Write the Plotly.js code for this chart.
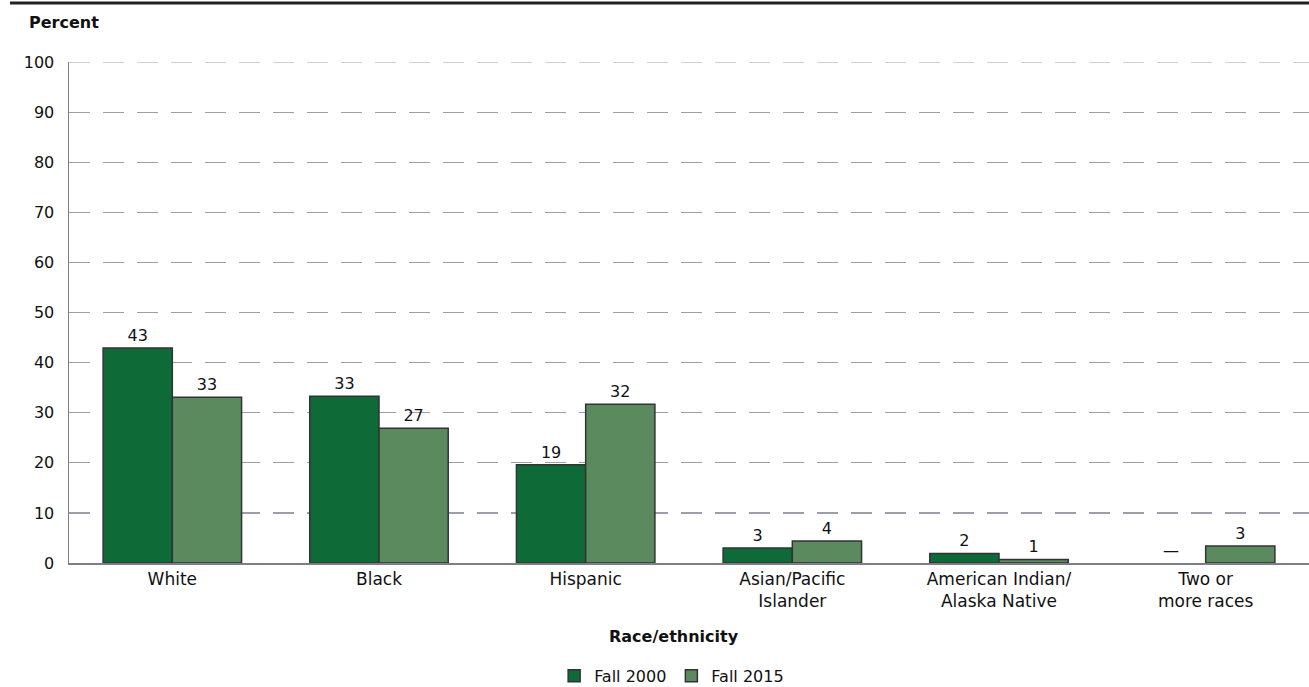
<!DOCTYPE html>
<html>
<head>
<meta charset="utf-8">
<script src="https://cdn.plot.ly/plotly-3.0.1.min.js"></script>
<style>html,body{margin:0;padding:0;background:#fff;}#chart{width:1309px;height:687px;}</style>
</head>
<body>
<div id="chart"></div>
<script>
const categories = ["White", "Black", "Hispanic", "Asian/Pacific<br>Islander", "American Indian/<br>Alaska Native", "Two or<br>more races"];
const fall2000 = [42.9, 33.3, 19.6, 3.0, 1.9, 0];
const fall2015 = [33.1, 26.9, 31.7, 4.4, 0.7, 3.4];
const labels2000 = ["43", "33", "19", "3", "2", "—"];
const labels2015 = ["33", "27", "32", "4", "1", "3"];
const yTicks = [0, 10, 20, 30, 40, 50, 60, 70, 80, 90, 100];

const font = "DejaVu Sans, sans-serif";
const gridColor = "#9d9eab";
const gridDash = "21px,13px";
const outline = v => v.map(d => d === 0 ? 0 : 1.5);
const common = {
  type: "bar", x: categories, textposition: "outside", cliponaxis: false,
  textfont: {family: font, size: 16, color: "#111"}, hoverinfo: "skip"
};
const data = [
  Object.assign({}, common, {name: "Fall 2000", y: fall2000, text: labels2000,
    marker: {color: "#0e6b37", line: {color: "#333333", width: outline(fall2000)}}}),
  Object.assign({}, common, {name: "Fall 2015", y: fall2015, text: labels2015,
    marker: {color: "#5b8a5f", line: {color: "#333333", width: outline(fall2015)}}})
];
const layout = {
  width: 1309, height: 687,
  margin: {l: 69, r: 0, t: 62, b: 124, autoexpand: false},
  paper_bgcolor: "#fff", plot_bgcolor: "#fff",
  font: {family: font, size: 16, color: "#111"},
  barmode: "group", bargap: 0.33, bargroupgap: 0,
  showlegend: true,
  legend: {orientation: "h", x: 0.486, xanchor: "center", y: -0.225, yanchor: "middle",
    font: {family: font, size: 16, color: "#111"}, traceorder: "normal", itemwidth: 30},
  xaxis: {showline: true, linecolor: "#7d7f88", linewidth: 1.5, ticks: "", showgrid: false,
    tickfont: {family: font, size: 17, color: "#111"}, automargin: false, fixedrange: true},
  yaxis: {range: [0, 100], tickvals: yTicks, showline: true, linecolor: "#7d7f88", linewidth: 1.5,
    showgrid: true, gridcolor: gridColor, gridwidth: 1.2, griddash: gridDash, zeroline: false,
    ticks: "", ticklabelstandoff: 10, tickfont: {family: font, size: 16, color: "#111"},
    automargin: false, fixedrange: true},
  annotations: [
    {text: "<b>Percent</b>", xref: "paper", yref: "paper", x: -0.034, y: 1 + 40/501,
      xanchor: "left", yanchor: "middle", showarrow: false, font: {family: font, size: 16, color: "#111"}},
    {text: "<b>Race/ethnicity</b>", xref: "paper", yref: "paper", x: 0.488, y: -(636-563)/501,
      xanchor: "center", yanchor: "middle", showarrow: false, font: {family: font, size: 16, color: "#111"}}
  ],
  shapes: [
    {type: "line", xref: "paper", yref: "paper", x0: -59/1240, x1: 1.01, y0: 1 + 59/501, y1: 1 + 59/501,
      line: {color: "#222", width: 3}},
    {type: "line", xref: "paper", yref: "y", x0: 0, x1: 1, y0: 100, y1: 100, layer: "below",
      line: {color: gridColor, width: 1.2, dash: gridDash}}
  ]
};
Plotly.newPlot("chart", data, layout, {displayModeBar: false, staticPlot: true});
</script>
</body>
</html>
